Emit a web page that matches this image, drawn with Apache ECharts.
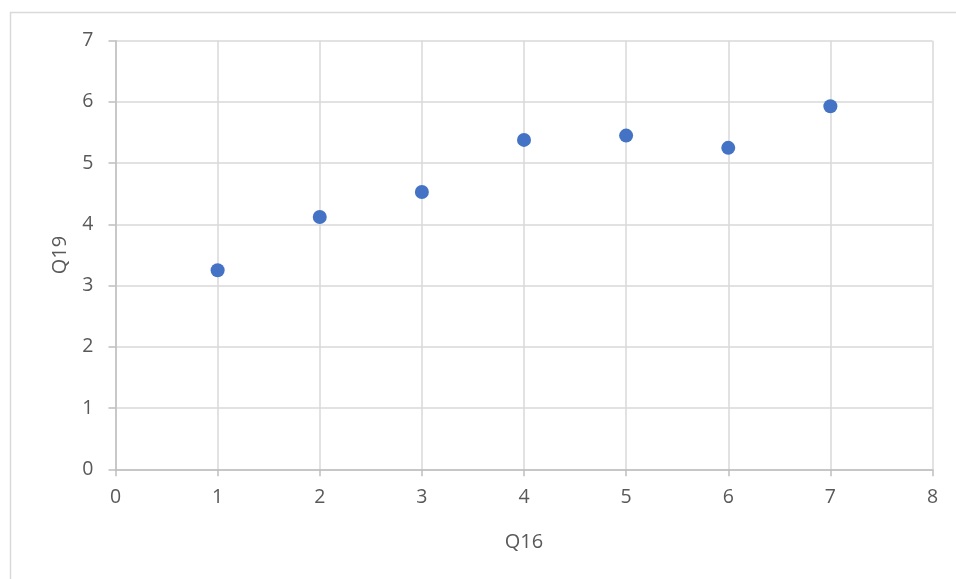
<!DOCTYPE html>
<html><head><meta charset="utf-8">
<script src="https://cdn.jsdelivr.net/npm/echarts@6/dist/echarts.min.js"></script>
<style>html,body{margin:0;padding:0;background:#fff}#c{width:956px;height:579px}</style>
</head><body><div id="c"></div>
<script>
const xValues = [1, 2, 3, 4, 5, 6, 7];
const yValues = [3.25, 4.12, 4.53, 5.38, 5.45, 5.25, 5.93];
const xTitle = 'Q16';
const yTitle = 'Q19';

const chart = echarts.init(document.getElementById('c'), null, {renderer: 'canvas'});
const font = "'Open Sans', 'Liberation Sans', sans-serif";
chart.setOption({
  animation: false,
  backgroundColor: '#fff',
  graphic: [{
    type: 'rect', left: 8, top: 10, silent: true,
    shape: {width: 1000, height: 1000},
    style: {fill: 'none', stroke: '#d9d9d9', lineWidth: 1.5}
  }],
  grid: {left: 115.5, right: 23.5, top: 40.7, bottom: 109.7, containLabel: false},
  xAxis: {
    type: 'value', min: 0, max: 8, interval: 1,
    name: xTitle, nameLocation: 'middle', nameGap: 63,
    nameTextStyle: {color: '#595959', fontSize: 20, fontFamily: font},
    axisLine: {show: true, lineStyle: {color: '#bfbfbf', width: 1.5}},
    axisTick: {show: true, length: 7, lineStyle: {color: '#bfbfbf', width: 1.5}},
    axisLabel: {color: '#595959', fontSize: 19.5, fontFamily: font, margin: 18},
    splitLine: {show: true, lineStyle: {color: '#d9d9d9', width: 1.5}}
  },
  yAxis: {
    type: 'value', min: 0, max: 7, interval: 1,
    name: yTitle, nameLocation: 'middle', nameGap: 45, nameRotate: 90,
    nameTextStyle: {color: '#595959', fontSize: 20, fontFamily: font},
    axisLine: {show: true, lineStyle: {color: '#bfbfbf', width: 1.5}},
    axisTick: {show: true, length: 7, lineStyle: {color: '#bfbfbf', width: 1.5}},
    axisLabel: {color: '#595959', fontSize: 19.5, fontFamily: font, margin: 22},
    splitLine: {show: true, lineStyle: {color: '#d9d9d9', width: 1.5}}
  },
  series: [{
    type: 'scatter',
    data: xValues.map((x, i) => [x, yValues[i]]),
    symbol: 'circle', symbolSize: 14,
    itemStyle: {color: '#4472c4', opacity: 1}
  }]
});
</script></body></html>
